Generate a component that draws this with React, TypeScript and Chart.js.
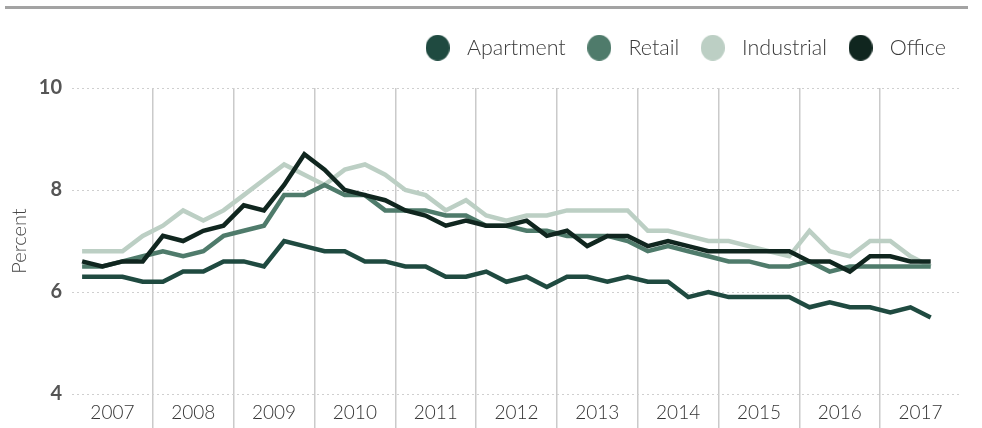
import React, { useEffect, useRef } from 'react';
import { Chart, registerables } from 'chart.js';

Chart.register(...registerables);

const YEARS = ['2007', '2008', '2009', '2010', '2011', '2012', '2013', '2014', '2015', '2016', '2017'];

const APARTMENT = [6.3, 6.3, 6.3, 6.2, 6.2, 6.4, 6.4, 6.6, 6.6, 6.5, 7.0, 6.9, 6.8, 6.8, 6.6, 6.6, 6.5, 6.5, 6.3, 6.3, 6.4, 6.2, 6.3, 6.1, 6.3, 6.3, 6.2, 6.3, 6.2, 6.2, 5.9, 6.0, 5.9, 5.9, 5.9, 5.9, 5.7, 5.8, 5.7, 5.7, 5.6, 5.7, 5.5];
const RETAIL = [6.5, 6.5, 6.6, 6.7, 6.8, 6.7, 6.8, 7.1, 7.2, 7.3, 7.9, 7.9, 8.1, 7.9, 7.9, 7.6, 7.6, 7.6, 7.5, 7.5, 7.3, 7.3, 7.2, 7.2, 7.1, 7.1, 7.1, 7.0, 6.8, 6.9, 6.8, 6.7, 6.6, 6.6, 6.5, 6.5, 6.6, 6.4, 6.5, 6.5, 6.5, 6.5, 6.5];
const INDUSTRIAL = [6.8, 6.8, 6.8, 7.1, 7.3, 7.6, 7.4, 7.6, 7.9, 8.2, 8.5, 8.3, 8.1, 8.4, 8.5, 8.3, 8.0, 7.9, 7.6, 7.8, 7.5, 7.4, 7.5, 7.5, 7.6, 7.6, 7.6, 7.6, 7.2, 7.2, 7.1, 7.0, 7.0, 6.9, 6.8, 6.7, 7.2, 6.8, 6.7, 7.0, 7.0, 6.7, 6.5];
const OFFICE = [6.6, 6.5, 6.6, 6.6, 7.1, 7.0, 7.2, 7.3, 7.7, 7.6, 8.1, 8.7, 8.4, 8.0, 7.9, 7.8, 7.6, 7.5, 7.3, 7.4, 7.3, 7.3, 7.4, 7.1, 7.2, 6.9, 7.1, 7.1, 6.9, 7.0, 6.9, 6.8, 6.8, 6.8, 6.8, 6.8, 6.6, 6.6, 6.4, 6.7, 6.7, 6.6, 6.6];

const SERIES_NAMES = ['Apartment', 'Retail', 'Industrial', 'Office'];
const SERIES_COLORS = ['#1f4a40', '#4f7b6b', '#bccfc4', '#10261f'];
const Y_TICKS = [4, 6, 8, 10];

function makeDot(color: string): HTMLCanvasElement {
  const c = document.createElement('canvas');
  c.width = 24;
  c.height = 26;
  const g = c.getContext('2d')!;
  g.fillStyle = color;
  g.beginPath();
  g.ellipse(12, 13, 12, 13, 0, 0, Math.PI * 2);
  g.fill();
  return c;
}

export default function App() {
  const ref = useRef<HTMLCanvasElement>(null);

  useEffect(() => {
    const series = [APARTMENT, RETAIL, INDUSTRIAL, OFFICE];
    const dots = SERIES_COLORS.map(makeDot);
    const drawOrder = [3, 1, 2, 0];
    const chart = new Chart(ref.current!, {
      type: 'line',
      data: {
        datasets: series.map((values, s) => ({
          label: SERIES_NAMES[s],
          data: values.map((v, i) => ({ x: i, y: v })),
          borderColor: SERIES_COLORS[s],
          backgroundColor: SERIES_COLORS[s],
          borderWidth: 4.5,
          pointRadius: 0,
          pointHoverRadius: 0,
          tension: 0,
          order: drawOrder[s],
          xAxisID: 'x',
          yAxisID: 'y',
        })),
      },
      options: {
        responsive: false,
        animation: false,
        events: [],
        layout: { padding: { top: 22, right: 21, left: 0, bottom: 0 } },
        plugins: {
          legend: {
            position: 'top',
            align: 'end',
            labels: {
              usePointStyle: true,
              pointStyleWidth: 37,
              boxHeight: 18,
              padding: 15,
              color: '#3a3a3a',
              font: { family: 'Lato', size: 21.5, weight: '300' },
              sort: (a: any, b: any) => a.datasetIndex - b.datasetIndex,
              generateLabels: (c: any) =>
                (Chart.defaults.plugins.legend.labels as any)
                  .generateLabels(c)
                  .map((item: any) => ({ ...item, pointStyle: dots[item.datasetIndex] })),
            },
          },
          subtitle: {
            display: true,
            text: '',
            weight: 500,
            padding: 0,
            font: { size: 10, lineHeight: '19.5px' },
          } as any,
          tooltip: { enabled: false },
        },
        scales: {
          x: { type: 'linear', min: -0.5, max: 43.5, display: false },
          years: {
            type: 'category',
            axis: 'x',
            labels: YEARS,
            position: 'bottom',
            offset: true,
            afterFit: (s: any) => {
              s.height = 34;
            },
            grid: {
              offset: true,
              drawTicks: true,
              tickLength: 34,
              lineWidth: 1.5,
              color: (ctx: any) => (ctx.type === 'tick' && ctx.index > 0 ? '#cacaca' : 'rgba(0,0,0,0)'),
            },
            border: { display: false },
            ticks: {
              padding: -27,
              autoSkip: false,
              maxRotation: 0,
              color: '#333333',
              font: { family: 'Lato', size: 19, weight: '300' },
            },
          } as any,
          y: {
            min: 4,
            max: 10,
            afterBuildTicks: (s: any) => {
              s.ticks = Y_TICKS.map((v) => ({ value: v }));
            },
            afterFit: (s: any) => {
              s.width = 72;
            },
            grid: { color: '#cfcfcf', lineWidth: 1, drawTicks: false },
            border: { display: false, dash: [2, 3] },
            ticks: {
              padding: 10,
              color: '#555555',
              font: { family: 'Lato', size: 20, weight: 'bold' },
            },
            title: {
              display: true,
              text: 'Percent',
              color: '#444444',
              font: { family: 'Lato', size: 20, weight: '300' },
              padding: { top: 8, bottom: 0 },
            },
          },
        },
      },
    });
    return () => chart.destroy();
  }, []);

  return (
    <div style={{ position: 'absolute', left: 0, top: 0, width: 982, height: 428, background: '#ffffff' }}>
      <div style={{ position: 'absolute', left: 5, top: 6, width: 963, height: 3, background: '#a3a3a3' }} />
      <canvas ref={ref} width={982} height={428} style={{ display: 'block' }} />
    </div>
  );
}
